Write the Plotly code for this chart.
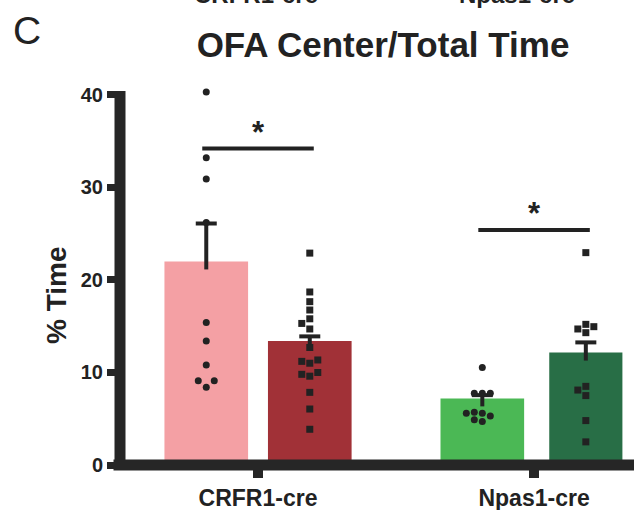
import numpy as np
import plotly.graph_objects as go

# ---------------- data ----------------
categories = ["CRFR1-cre", "Npas1-cre"]
control_means = [22.0, 7.2]
control_sem = [4.1, 0.35]
mutant_means = [13.4, 12.15]
mutant_sem = [0.5, 1.1]

crfr1_control_pts = [40.3, 33.2, 30.9, 26.2, 15.4, 13.4, 10.8, 9.1, 9.1, 8.4]
crfr1_mutant_pts = [22.9, 18.7, 17.65, 16.75, 15.8, 15.3, 14.7, 12.7, 11.35,
                    11.0, 11.2, 9.8, 9.6, 10.0, 7.85, 6.05, 3.86]
npas1_control_pts = [10.55, 7.75, 7.75, 7.75, 5.6, 5.3, 5.6, 5.7, 4.7, 4.9]
npas1_mutant_pts = [22.95, 14.95, 15.2, 14.7, 14.3, 8.5, 8.1, 7.5, 4.8, 2.5]

sig_heights = [34.2, 25.4]
sig_labels = ["*", "*"]
y_ticks = [0, 10, 20, 30, 40]
y_axis_max = 40

# ---------------- layout / style ----------------
W, H = 634, 510
Z0 = 465.0          # pixel row of y = 0
Y_PX = 9.25         # pixels per y unit
Y_RANGE = [0, 41.5]
L, R = 120, 0
B = H - Z0
T = Z0 - Y_RANGE[1] * Y_PX
X_RANGE = [-0.5, 1.362]
X_PX = (W - L - R) / (X_RANGE[1] - X_RANGE[0])
PH = H - T - B


def px_to_paper_y(py):
    return (Z0 - py) / PH


def px_to_paper_x(px):
    return (px - L) / (W - L - R)


FONT = "Liberation Sans, Arial, Helvetica, sans-serif"
INK = "#222222"
AXIS = "#262626"
BAR_OFF = 0.1875
BAR_W = [[0.303, 0.303], [0.303, 0.265]]  # [control widths], [mutant widths]
CTRL_COLORS = ["#F4A0A4", "#4BB855"]
MUT_COLORS = ["#A13137", "#286E46"]

group_x = np.arange(len(categories), dtype=float)
ctrl_x = group_x - BAR_OFF
mut_x = group_x + BAR_OFF


def swarm(values, center, step_px=8.0, sep_px=7.2):
    vals = np.asarray(values, dtype=float)
    order = np.argsort(vals)
    placed = []
    xs = np.zeros(len(vals))
    cands = [0]
    for j in range(1, 12):
        cands += [-j, j]
    for i in order:
        ypx = vals[i] * Y_PX
        xpx = 0.0
        for c in cands:
            xpx = c * step_px
            if all(abs(xpx - px) >= sep_px or abs(ypx - py) >= sep_px for px, py in placed):
                break
        placed.append((xpx, ypx))
        xs[i] = center + xpx / X_PX
    return xs


fig = go.Figure()

fig.add_trace(go.Bar(x=ctrl_x, y=control_means, width=BAR_W[0],
                     marker=dict(color=CTRL_COLORS, line=dict(width=0)),
                     showlegend=False, hoverinfo="skip"))
fig.add_trace(go.Bar(x=mut_x, y=mutant_means, width=BAR_W[1],
                     marker=dict(color=MUT_COLORS, line=dict(width=0)),
                     showlegend=False, hoverinfo="skip"))

# error bars (upper SEM only, stem dipping slightly into the bar)
CAP_HW = 10.5 / X_PX
DIP = 8.0 / Y_PX
ex, ey = [], []
for xs_, ms_, ss_ in ((ctrl_x, control_means, control_sem), (mut_x, mutant_means, mutant_sem)):
    for xc, m, s in zip(xs_, ms_, ss_):
        ex += [xc, xc, None, xc - CAP_HW, xc + CAP_HW, None]
        ey += [m - DIP, m + s, None, m + s, m + s, None]
fig.add_trace(go.Scatter(x=ex, y=ey, mode="lines", line=dict(color=INK, width=4),
                         showlegend=False, hoverinfo="skip", cliponaxis=False))

# individual animals
point_sets = [
    (crfr1_control_pts, ctrl_x[0], "circle"),
    (crfr1_mutant_pts, mut_x[0], "square"),
    (npas1_control_pts, ctrl_x[1], "circle"),
    (npas1_mutant_pts, mut_x[1], "square"),
]
for pts, cx, sym in point_sets:
    fig.add_trace(go.Scatter(x=swarm(pts, cx), y=pts, mode="markers",
                             marker=dict(color=INK, size=7, symbol=sym, line=dict(width=0)),
                             showlegend=False, hoverinfo="skip", cliponaxis=False))

# significance brackets
EXT = 4.0 / X_PX
for g, h, lab in zip(group_x, sig_heights, sig_labels):
    fig.add_trace(go.Scatter(x=[g - BAR_OFF - EXT, g + BAR_OFF + EXT], y=[h, h], mode="lines",
                             line=dict(color=INK, width=4), showlegend=False,
                             hoverinfo="skip", cliponaxis=False))
    fig.add_annotation(x=g, y=h, xref="x", yref="y", text=lab, showarrow=False,
                       yanchor="bottom", yshift=-3,
                       font=dict(family=FONT, size=31, color=INK, weight="bold"))

# thick axis lines
fig.add_shape(type="line", xref="paper", yref="paper", x0=0, x1=0,
              y0=0, y1=px_to_paper_y(Z0 - y_axis_max * Y_PX - 4),
              line=dict(color=AXIS, width=11), layer="above")
fig.add_shape(type="line", xref="paper", yref="paper", x0=px_to_paper_x(113.5), x1=1,
              y0=0, y1=0, line=dict(color=AXIS, width=11), layer="above")

# texts
fig.add_annotation(text="% Time", textangle=-90, xref="paper", yref="paper",
                   x=px_to_paper_x(57), y=px_to_paper_y(295),
                   xanchor="center", yanchor="middle", showarrow=False,
                   font=dict(family=FONT, size=28, color=INK, weight="bold"))
fig.add_annotation(text="C", xref="paper", yref="paper",
                   x=px_to_paper_x(27), y=px_to_paper_y(31),
                   xanchor="center", yanchor="middle", showarrow=False,
                   font=dict(family=FONT, size=39, color=INK))
for name, cx in zip(categories, [256, 517]):
    fig.add_annotation(text=name, xref="paper", yref="paper",
                       x=px_to_paper_x(cx), y=px_to_paper_y(10),
                       xanchor="center", yanchor="bottom", showarrow=False,
                       font=dict(family=FONT, size=24, color=INK, weight="bold"))

fig.update_layout(
    width=W, height=H,
    margin=dict(l=L, r=R, t=T, b=B, pad=0),
    paper_bgcolor="white", plot_bgcolor="white",
    font=dict(family=FONT, color=INK),
    title=dict(text="OFA Center/Total Time", xref="paper", x=px_to_paper_x(383),
               xanchor="center", yref="container", y=1 - 45 / H, yanchor="middle",
               font=dict(family=FONT, size=35, color=INK, weight="bold")),
    barmode="overlay",
    showlegend=False,
    xaxis=dict(range=X_RANGE, tickvals=list(group_x), ticktext=categories,
               showline=False, showgrid=False, zeroline=False,
               ticks="outside", ticklen=12, tickwidth=10, tickcolor=AXIS,
               tickfont=dict(family=FONT, size=23, color=INK, weight="bold")),
    yaxis=dict(range=Y_RANGE, tickvals=y_ticks,
               showline=False, showgrid=False, zeroline=False,
               ticks="outside", ticklen=12, tickwidth=7, tickcolor=AXIS,
               tickfont=dict(family=FONT, size=20, color=INK, weight="bold")),
)

fig.write_html("out.html", config={"displayModeBar": False},
               post_script="document.body.style.margin='0';")
